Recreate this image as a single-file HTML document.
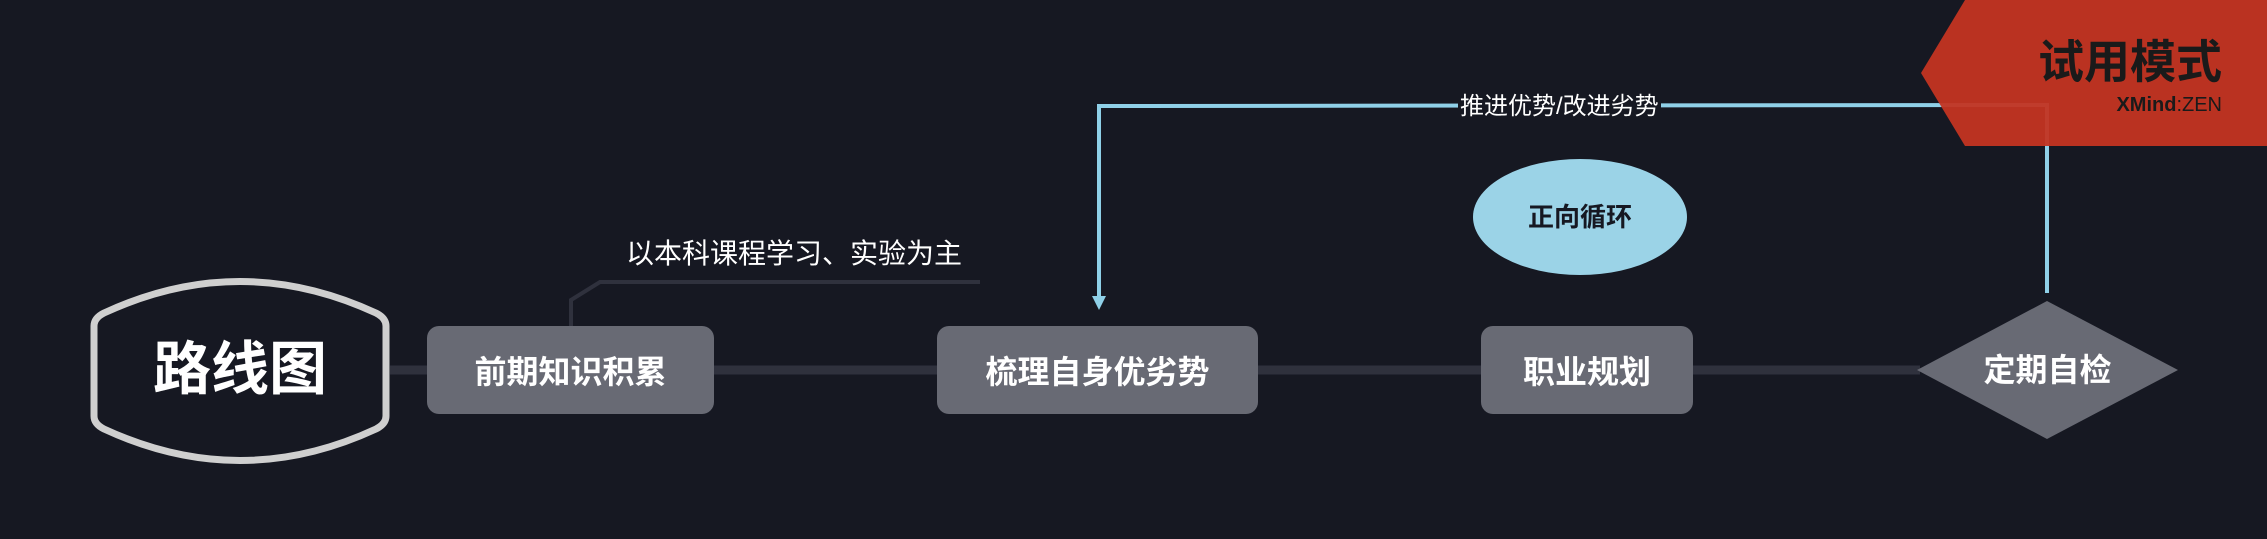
<!DOCTYPE html>
<html><head><meta charset="utf-8"><style>
body{margin:0;width:2267px;height:539px;background:#161822;overflow:hidden;position:relative;font-family:"Liberation Sans","Noto Sans CJK SC",sans-serif}
.box{position:absolute;background:#686a74;border-radius:12px;color:#fff;font-weight:bold;font-size:32px;display:flex;align-items:center;justify-content:center}
</style></head><body>
<svg width="2267" height="539" style="position:absolute;left:0;top:0">
<line x1="390" y1="370" x2="1920" y2="370" stroke="#2f313d" stroke-width="9"/>
<polyline points="571,326 571,300 600,282 980,282" fill="none" stroke="#2f313d" stroke-width="4"/>
<path d="M94,326 Q94,318 104,313 Q240,250 376,313 Q386,318 386,326 L386,416 Q386,424 376,429 Q240,492 104,429 Q94,424 94,416 Z" fill="#161822" stroke="#cfcfcf" stroke-width="7"/>
<ellipse cx="1580" cy="217" rx="107" ry="58" fill="#9bd3e7"/>
<polygon points="2047,301 2178,370 2047,439 1917,370" fill="#686a74"/>
<polyline points="2047,293 2047,105 1099,106 1099,298" fill="none" stroke="#8fd0e8" stroke-width="4"/>
<polygon points="1092,296 1106,296 1099,310" fill="#8fd0e8"/>
<polygon points="1965,0 2267,0 2267,146 1965,146 1921,73" fill="#c33422" opacity="0.95"/>
<line x1="2047" y1="146" x2="2047" y2="293" stroke="#8fd0e8" stroke-width="4"/>
</svg>
<div style="position:absolute;left:94px;top:330px;width:292px;text-align:center;color:#fff;font-weight:bold;font-size:58px;line-height:80px">路线图</div>
<div class="box" style="left:427px;top:326px;width:287px;height:88px">前期知识积累</div>
<div class="box" style="left:937px;top:326px;width:321px;height:88px">梳理自身优劣势</div>
<div class="box" style="left:1481px;top:326px;width:212px;height:88px">职业规划</div>
<div style="position:absolute;left:1917px;top:340px;width:261px;text-align:center;color:#fff;font-weight:bold;font-size:32px;line-height:60px">定期自检</div>
<div style="position:absolute;left:1473px;top:195px;width:214px;text-align:center;color:#161822;font-weight:bold;font-size:26px;line-height:44px">正向循环</div>
<div style="position:absolute;left:626px;top:234px;color:#fff;font-size:28px;line-height:40px">以本科课程学习、实验为主</div>
<div style="position:absolute;left:1458px;top:90px;color:#fff;font-size:24px;line-height:34px;background:#161822;padding:0 2px">推进优势/改进劣势</div>
<div style="position:absolute;left:2000px;top:34px;width:222px;text-align:right;color:#1a1a1a;font-size:46px;line-height:56px;font-weight:bold">试用模式</div>
<div style="position:absolute;left:2060px;top:92px;width:162px;text-align:right;color:#1a1a1a;font-size:20px;line-height:26px"><b>XMind</b>:ZEN</div>
</body></html>
